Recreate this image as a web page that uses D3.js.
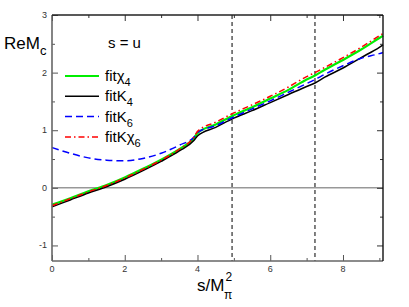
<!DOCTYPE html>
<html>
<head>
<meta charset="UTF-8">
<script src="https://cdn.jsdelivr.net/npm/d3@7/dist/d3.min.js"></script>
<style>
  body { margin: 0; background: #fff; }
  text { font-family: "Liberation Sans", Arial, sans-serif; }
  .tick-lab { font-size: 9px; fill: #333; }
</style>
</head>
<body>
<svg id="vis" width="409" height="307"></svg>
<script>
// s / M_pi^2 sample points
const sVals = [0, 0.5, 1, 1.5, 2, 2.5, 3, 3.5, 3.9, 4, 4.5, 5, 5.5, 6, 6.5, 7, 7.23, 7.5, 8, 8.5, 9, 9.1];

const fitChi4 = [-0.29, -0.18, -0.06, 0.05, 0.18, 0.33, 0.49, 0.67, 0.86, 0.95, 1.10, 1.26, 1.40, 1.55, 1.70, 1.88, 1.95, 2.05, 2.22, 2.40, 2.60, 2.64];
const fitK4 = [-0.33, -0.21, -0.09, 0.02, 0.15, 0.30, 0.46, 0.64, 0.82, 0.90, 1.05, 1.21, 1.34, 1.48, 1.62, 1.76, 1.82, 1.92, 2.08, 2.26, 2.44, 2.48];
const fitK6 = [0.70, 0.60, 0.52, 0.48, 0.47, 0.51, 0.60, 0.74, 0.88, 0.96, 1.08, 1.23, 1.37, 1.51, 1.66, 1.81, 1.88, 1.97, 2.12, 2.25, 2.33, 2.35];
const fitKChi6 = [-0.31, -0.19, -0.07, 0.04, 0.17, 0.32, 0.48, 0.67, 0.88, 0.98, 1.14, 1.30, 1.44, 1.59, 1.75, 1.93, 2.00, 2.09, 2.26, 2.44, 2.64, 2.68];

const vLines = [4.95, 7.23];
const xTicks = [0, 2, 4, 6, 8];
const yTicks = [-1, 0, 1, 2, 3];

const series = [
  { name: "fitχ", sub: "4", vals: fitChi4, color: "#00ee00", width: 2.2, dash: null },
  { name: "fitK", sub: "4", vals: fitK4, color: "#000", width: 1.5, dash: null },
  { name: "fitK", sub: "6", vals: fitK6, color: "#0000ff", width: 1.5, dash: "7,4" },
  { name: "fitKχ", sub: "6", vals: fitKChi6, color: "#ff0000", width: 1.5, dash: "6,3,1.5,3" }
];

const svg = d3.select("#vis");
const margin = { top: 15, right: 26, bottom: 46, left: 52 };
const W = 409, H = 307;

const x = d3.scaleLinear().domain([0, 9.1]).range([margin.left, W - margin.right]);
const y = d3.scaleLinear().domain([-1.27, 3]).range([H - margin.bottom, margin.top]);

const plot = svg.append("g");

// zero line
plot.append("line")
  .attr("x1", x(0)).attr("x2", x(9.1))
  .attr("y1", y(0)).attr("y2", y(0))
  .attr("stroke", "#666").attr("stroke-width", 1);

// dashed verticals
plot.selectAll(".vl").data(vLines).join("line")
  .attr("x1", d => x(d)).attr("x2", d => x(d))
  .attr("y1", y(3)).attr("y2", y(-1.27))
  .attr("stroke", "#000").attr("stroke-width", 1).attr("stroke-dasharray", "4,3");

const line = d3.line().x(d => x(d[0])).y(d => y(d[1])).curve(d3.curveMonotoneX);

series.forEach(s => {
  plot.append("path")
    .datum(sVals.map((v, i) => [v, s.vals[i]]))
    .attr("d", line)
    .attr("fill", "none")
    .attr("stroke", s.color)
    .attr("stroke-width", s.width)
    .attr("stroke-dasharray", s.dash);
});

// axes with ticks inside
const axB = svg.append("g").attr("transform", "translate(0," + y(-1.27) + ")");
axB.call(d3.axisBottom(x).tickValues(d3.range(0, 9.01, 1)).tickSize(-3).tickFormat(""));
axB.call(g => g.selectAll(".tick").filter(d => d % 2 === 0).select("line").attr("y2", -6));
axB.call(g => g.select(".domain").remove());
axB.selectAll(".tick line").attr("stroke", "#555");

const axT = svg.append("g").attr("transform", "translate(0," + y(3) + ")");
axT.call(d3.axisTop(x).tickValues(d3.range(0, 9.01, 1)).tickSize(-3).tickFormat(""));
axT.call(g => g.selectAll(".tick").filter(d => d % 2 === 0).select("line").attr("y2", 6));
axT.call(g => g.select(".domain").remove());
axT.selectAll(".tick line").attr("stroke", "#333");

const axL = svg.append("g").attr("transform", "translate(" + x(0) + ",0)");
axL.call(d3.axisLeft(y).tickValues(d3.range(-1, 3.01, 0.5)).tickSize(-3).tickFormat(""));
axL.call(g => g.selectAll(".tick").filter(d => Number.isInteger(d)).select("line").attr("x2", 6));
axL.call(g => g.select(".domain").remove());
axL.selectAll(".tick line").attr("stroke", "#555");

const axR = svg.append("g").attr("transform", "translate(" + x(9.1) + ",0)");
axR.call(d3.axisRight(y).tickValues(d3.range(-1, 3.01, 0.5)).tickSize(-3).tickFormat(""));
axR.call(g => g.selectAll(".tick").filter(d => Number.isInteger(d)).select("line").attr("x2", -6));
axR.call(g => g.select(".domain").remove());
axR.selectAll(".tick line").attr("stroke", "#333");

// frame
svg.append("line").attr("x1", x(0)).attr("x2", x(0)).attr("y1", y(3)).attr("y2", y(-1.27)).attr("stroke", "#666").attr("stroke-width", 1.6);
svg.append("line").attr("x1", x(0)).attr("x2", x(9.1)).attr("y1", y(-1.27)).attr("y2", y(-1.27)).attr("stroke", "#666").attr("stroke-width", 1.6);
svg.append("line").attr("x1", x(0)).attr("x2", x(9.1)).attr("y1", y(3)).attr("y2", y(3)).attr("stroke", "#222").attr("stroke-width", 1.4);
svg.append("line").attr("x1", x(9.1)).attr("x2", x(9.1)).attr("y1", y(3)).attr("y2", y(-1.27)).attr("stroke", "#111").attr("stroke-width", 1.4);

// tick labels
svg.selectAll(".xl").data(xTicks).join("text")
  .attr("class", "tick-lab")
  .attr("x", d => x(d)).attr("y", y(-1.27) + 11)
  .attr("text-anchor", "middle").text(d => d);
svg.selectAll(".yl").data(yTicks).join("text")
  .attr("class", "tick-lab")
  .attr("x", x(0) - 5).attr("y", d => y(d) + 3)
  .attr("text-anchor", "end").text(d => d);

// axis titles
const yt = svg.append("text").attr("x", 4).attr("y", 49).attr("font-size", 17).attr("fill", "#000");
yt.append("tspan").text("ReM");
yt.append("tspan").attr("font-size", 13).attr("dy", 6).text("c");

const xt = svg.append("text").attr("x", 197).attr("y", 291).attr("font-size", 17).attr("fill", "#000");
xt.append("tspan").text("s/M");
xt.append("tspan").attr("font-size", 12).attr("dy", -10).attr("dx", 1).text("2");
xt.append("tspan").attr("font-size", 12).attr("dy", 18).attr("dx", -8).text("π");

svg.append("text").attr("x", 108).attr("y", 48).attr("font-size", 15).text("s = u");

// legend
const leg = svg.append("g");
series.forEach((s, i) => {
  const ly = 76 + i * 20.3;
  leg.append("line")
    .attr("x1", 65).attr("x2", 99).attr("y1", ly).attr("y2", ly)
    .attr("stroke", s.color).attr("stroke-width", s.width)
    .attr("stroke-dasharray", s.dash);
  const t = leg.append("text").attr("x", 105).attr("y", ly + 5).attr("font-size", 15);
  t.append("tspan").text(s.name);
  t.append("tspan").attr("font-size", 11).attr("dy", 5).text(s.sub);
});
</script>
</body>
</html>
